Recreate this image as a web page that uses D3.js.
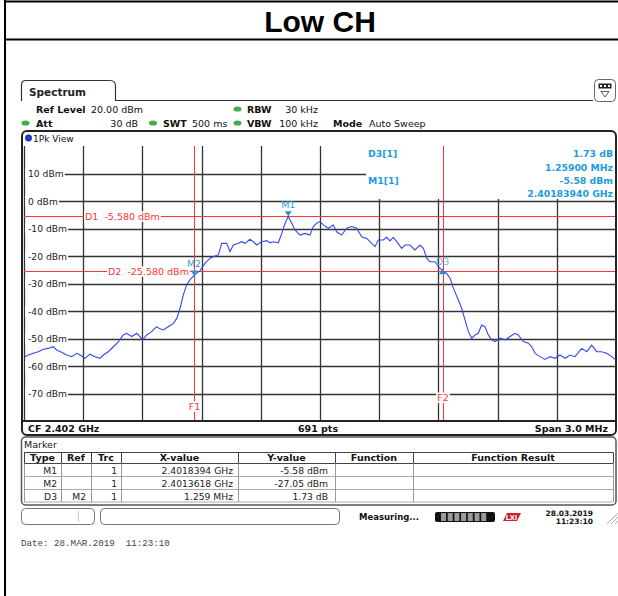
<!DOCTYPE html>
<html>
<head>
<meta charset="utf-8">
<script src="https://cdn.jsdelivr.net/npm/d3@7"></script>
<style>
body { margin: 0; background: #fff; }
svg text { font-family: "DejaVu Sans", Verdana, sans-serif; }
</style>
</head>
<body>
<div id="chart"></div>
<script>

// sweep settings (MHz)
var centerFreq = 2402;
var span = 3;

// trace, frequency offset from CF in MHz / level in dBm
var freqOffset = [
  -1.496,-1.478,-1.453,-1.428,-1.402,-1.377,-1.352,-1.334,-1.309,-1.284,
  -1.258,-1.233,-1.216,-1.191,-1.166,-1.140,-1.115,-1.098,-1.073,-1.047,
  -1.022,-0.997,-0.980,-0.954,-0.929,-0.912,-0.899,-0.878,-0.853,-0.828,
  -0.811,-0.794,-0.769,-0.743,-0.726,-0.709,-0.693,-0.676,-0.659,
  -0.638,-0.608,-0.583,-0.557,-0.532,-0.515,-0.498,-0.473,-0.456,-0.439,
  -0.414,-0.397,-0.380,-0.355,-0.338,-0.321,-0.295,-0.270,-0.253,-0.237,
  -0.211,-0.194,-0.177,-0.161,
  -0.143,-0.127,-0.101,-0.076,-0.051,-0.034,-0.017,0.000,0.017,0.042,
  0.067,0.085,0.110,0.135,0.161,0.186,0.211,0.237,0.262,0.279,
  0.295,0.321,0.338,0.355,0.371,0.389,0.414,0.431,0.456,0.481,
  0.507,0.524,0.541,0.557,0.583,0.600,0.621,
  0.642,0.659,0.676,0.701,0.718,0.735,0.752,0.769,0.786,0.802,
  0.819,0.836,0.853,0.870,0.887,0.912,0.938,0.963,0.988,1.005,
  1.030,1.056,1.073,1.090,1.115,1.140,1.166,1.191,1.216,1.242,
  1.267,1.292,1.326,1.352,1.377,1.402,1.428,1.453,1.478,1.500
];
var levelDbm = [
  -56.6,-56.0,-55.4,-54.8,-53.9,-53.6,-53.0,-54.2,-55.0,-56.0,
  -56.6,-55.4,-56.0,-57.2,-55.7,-56.6,-57.2,-56.0,-54.8,-53.0,
  -51.2,-48.7,-48.1,-49.3,-48.1,-49.3,-50.5,-48.7,-47.5,-45.7,
  -46.5,-46.9,-45.7,-44.5,-42.7,-39.0,-34.2,-30.5,-28.7,
  -27.05,-25.3,-22.7,-20.8,-20.0,-19.6,-15.4,-15.4,-18.4,-16.0,
  -15.4,-14.8,-15.4,-13.9,-14.8,-16.0,-14.8,-14.4,-15.2,-14.8,
  -15.2,-11.8,-8.1,-5.58,
  -8.1,-10.5,-12.4,-11.8,-12.4,-9.3,-8.1,-7.5,-8.7,-9.9,
  -8.7,-11.2,-12.4,-9.9,-9.3,-9.9,-13.0,-13.6,-15.4,-16.6,
  -14.2,-14.2,-13.2,-14.5,-13.2,-14.8,-17.2,-16.0,-16.0,-17.8,
  -16.0,-17.2,-20.8,-22.1,-22.1,-23.9,-25.32,
  -26.3,-28.1,-31.7,-36.0,-39.0,-43.3,-47.5,-49.9,-48.7,-48.1,
  -45.1,-45.7,-48.7,-50.5,-51.1,-49.9,-50.5,-49.3,-48.1,-48.7,
  -51.1,-51.7,-53.0,-55.4,-56.6,-57.6,-56.6,-57.2,-56.0,-57.2,
  -56.0,-56.6,-53.6,-54.8,-52.4,-54.8,-54.8,-55.4,-56.6,-57.8
];

var refLevel = 20;
var yTicks = [10, 0, -10, -20, -30, -40, -50, -60, -70];

// markers
var markerNames = ["M1", "M2", "D3"];
var markerFreq = [-0.1606, -0.6382, 0.6208];
var markerLevel = [-5.58, -27.05, -25.32];

// display / frequency lines
var dLineLevels = [-5.58, -25.58];
var dLineLabels = ["D1  -5.580 dBm", "D2  -25.580 dBm"];
var fLineFreqs = [-0.6382, 0.6208];
var fLineLabels = ["F1", "F2"];

// marker readout (top right)
var infoLeft = ["D3[1]", "", "M1[1]", ""];
var infoRight = ["1.73 dB", "1.25900 MHz", "-5.58 dBm", "2.40183940 GHz"];

// marker table
var tableHeaders = ["Type", "Ref", "Trc", "X-value", "Y-value", "Function", "Function Result"];
var rowType = ["M1", "M2", "D3"];
var rowRef = ["", "", "M2"];
var rowTrc = ["1", "1", "1"];
var rowX = ["2.4018394 GHz", "2.4013618 GHz", "1.259 MHz"];
var rowY = ["-5.58 dBm", "-27.05 dBm", "1.73 dB"];

var W = 618, H = 596;
var svg = d3.select("#chart").append("svg").attr("width", W).attr("height", H);

function c(v) { return Math.round(v) + 0.5; }

function txt(g, x, y, s, size, opt) {
  opt = opt || {};
  var t = g.append("text").attr("x", x).attr("y", y).text(s)
    .style("font-size", size + "px")
    .attr("fill", opt.fill || "#111")
    .attr("text-anchor", opt.anchor || "start");
  if (opt.bold) t.style("font-weight", "bold");
  if (opt.family) t.style("font-family", opt.family);
  if (opt.pre) t.style("white-space", "pre");
  return t;
}

// ---- page frame + title
svg.append("line").attr("x1", 5).attr("x2", 5).attr("y1", 0).attr("y2", H)
  .attr("stroke", "#000").attr("stroke-width", 2);
svg.append("line").attr("x1", 4).attr("x2", W).attr("y1", 1.5).attr("y2", 1.5)
  .attr("stroke", "#000").attr("stroke-width", 2);
svg.append("line").attr("x1", 4).attr("x2", W).attr("y1", 39.5).attr("y2", 39.5)
  .attr("stroke", "#000").attr("stroke-width", 2);
txt(svg, 320, 32, "Low CH", 30, {bold: true, anchor: "middle", family: "'Liberation Sans', Arial, sans-serif", fill: "#000"});

// ---- analyzer screenshot
var scr = svg.append("g");

// tab
scr.append("path")
  .attr("d", "M21.5,101 L21.5,85 Q21.5,80.5 26,80.5 L110,80.5 Q115.5,80.5 115.5,86 L115.5,100.5 L593,100.5")
  .attr("fill", "none").attr("stroke", "#333").attr("stroke-width", 1.2);
txt(scr, 29, 96, "Spectrum", 10.5, {bold: true, fill: "#222"});

// little toolbar button
scr.append("rect").attr("x", 594.5).attr("y", 79.5).attr("width", 21).attr("height", 22).attr("rx", 4)
  .attr("fill", "#fff").attr("stroke", "#666");
scr.append("rect").attr("x", 598.5).attr("y", 83.5).attr("width", 13).attr("height", 5).attr("fill", "#222");
[600, 604, 608].forEach(function(px) {
  scr.append("rect").attr("x", px).attr("y", 85).attr("width", 2).attr("height", 2).attr("fill", "#fff");
});
scr.append("path").attr("d", "M601,91.5 L609,91.5 L605,97 Z").attr("fill", "none").attr("stroke", "#333").attr("stroke-width", 0.8);

// settings rows
function dot(x, y) {
  scr.append("ellipse").attr("cx", x).attr("cy", y).attr("rx", 4).attr("ry", 2.6).attr("fill", "#3fae49");
}
txt(scr, 36, 112.5, "Ref Level", 9.5, {bold: true});
txt(scr, 91, 112.5, "20.00 dBm", 9.5);
dot(237.5, 109);
txt(scr, 247, 112.5, "RBW", 9.5, {bold: true});
txt(scr, 318, 112.5, "30 kHz", 9.5, {anchor: "end"});

dot(25.5, 123);
txt(scr, 36, 126.5, "Att", 9.5, {bold: true});
txt(scr, 138, 126.5, "30 dB", 9.5, {anchor: "end"});
dot(153, 123);
txt(scr, 163, 126.5, "SWT", 9.5, {bold: true});
txt(scr, 192, 126.5, "500 ms", 9.5);
dot(237.5, 123);
txt(scr, 247, 126.5, "VBW", 9.5, {bold: true});
txt(scr, 318, 126.5, "100 kHz", 9.5, {anchor: "end"});
txt(scr, 333, 126.5, "Mode", 9.5, {bold: true});
txt(scr, 369, 126.5, "Auto Sweep", 9.5);

// diagram window frame
scr.append("rect").attr("x", 22).attr("y", 131).attr("width", 594).attr("height", 304).attr("rx", 5)
  .attr("fill", "#fff").attr("stroke", "#222").attr("stroke-width", 2);
scr.append("circle").attr("cx", 28.5).attr("cy", 138).attr("r", 3.2).attr("fill", "#1c38d6").attr("stroke", "#0a1a80").attr("stroke-width", 0.6);
txt(scr, 33, 141.5, "1Pk View", 9);

// scales
var x = d3.scaleLinear().domain([-span / 2, span / 2]).range([24, 616]);
var y = d3.scaleLinear().domain([refLevel - 100, refLevel]).range([421, 146]);

var plot = scr.append("g");

// grid
var xGrid = d3.range(11).map(function(i) { return -span / 2 + i * span / 10; });
plot.selectAll(".vgrid").data(xGrid.slice(0, 10)).enter().append("line")
  .attr("x1", function(d) { return c(x(d)); }).attr("x2", function(d) { return c(x(d)); })
  .attr("y1", 146).attr("y2", 421)
  .attr("stroke", "#333").attr("stroke-width", 1.3);
plot.selectAll(".hgrid").data(yTicks).enter().append("line")
  .attr("x1", 24).attr("x2", 616)
  .attr("y1", function(d) { return c(y(d)); }).attr("y2", function(d) { return c(y(d)); })
  .attr("stroke", "#333").attr("stroke-width", 1.3);

// readout box covers the grid top right
plot.append("rect").attr("x", 366).attr("y", 146).attr("width", 249).attr("height", 53).attr("fill", "#fff");

// bottom line of diagram + footer
scr.append("line").attr("x1", 22).attr("x2", 616).attr("y1", 421).attr("y2", 421)
  .attr("stroke", "#222").attr("stroke-width", 2);
txt(scr, 28, 431.5, "CF 2.402 GHz", 9.5, {bold: true});
txt(scr, 318, 431.5, "691 pts", 9.5, {bold: true, anchor: "middle"});
txt(scr, 608, 431.5, "Span 3.0 MHz", 9.5, {bold: true, anchor: "end"});

// red display lines
var red = "#ff3434";
dLineLevels.forEach(function(lv) {
  plot.append("line").attr("x1", 24).attr("x2", 615)
    .attr("y1", c(y(lv))).attr("y2", c(y(lv)))
    .attr("stroke", red).attr("stroke-width", 1);
});
fLineFreqs.forEach(function(f) {
  plot.append("line").attr("x1", c(x(f))).attr("x2", c(x(f)))
    .attr("y1", 146).attr("y2", 421)
    .attr("stroke", red).attr("stroke-width", 1);
});

// labels with white background
function bgLabel(x0, yBase, s, size, col, anchor, pad) {
  var t = txt(plot, x0, yBase, s, size, {fill: col, anchor: anchor, pre: true});
  var b = t.node().getBBox();
  plot.insert("rect", function() { return t.node(); })
    .attr("x", b.x - pad).attr("y", yBase - size + 1).attr("width", b.width + 2 * pad).attr("height", size + 1)
    .attr("fill", "#fff");
  return t;
}
var dLabelX = [85, 108];
dLineLabels.forEach(function(s, i) {
  bgLabel(dLabelX[i], y(dLineLevels[i]) + 3.5, s, 9.5, red, "start", 1);
});
var fLabelY = [410, 401];
fLineLabels.forEach(function(s, i) {
  bgLabel(x(fLineFreqs[i]) + 0.5, fLabelY[i], s, 9.5, red, "middle", 1);
});

// y tick labels
yTicks.forEach(function(v) {
  var t = txt(plot, 28, y(v) + 3.5, v + " dBm", 9.2, {fill: "#222"});
  var b = t.node().getBBox();
  plot.insert("rect", function() { return t.node(); })
    .attr("x", 25).attr("y", y(v) - 5).attr("width", b.x + b.width - 25 + 1).attr("height", 10)
    .attr("fill", "#fff");
});

// trace
var trace = freqOffset.map(function(f, i) { return [f, levelDbm[i]]; });
var line = d3.line().x(function(d) { return x(d[0]); }).y(function(d) { return y(d[1]); });
plot.append("path").datum(trace).attr("d", line)
  .attr("fill", "none").attr("stroke", "#3548f5").attr("stroke-width", 1.1);

// markers
var mBlue = "#1f93d9";
markerNames.forEach(function(n, i) {
  var mx = x(markerFreq[i]), my = y(markerLevel[i]);
  var up = n.charAt(0) === "D";
  if (up) {
    plot.append("path").attr("d", "M" + (mx - 3.5) + "," + (my + 3.5) + " L" + (mx + 3.5) + "," + (my + 3.5) + " L" + mx + "," + (my - 2.5) + " Z")
      .attr("fill", mBlue);
    txt(plot, mx, my - 6, n, 9.5, {fill: "#6bbde8", anchor: "middle"});
  } else {
    plot.append("path").attr("d", "M" + (mx - 3.5) + "," + (my - 5) + " L" + (mx + 3.5) + "," + (my - 5) + " L" + mx + "," + my + " Z")
      .attr("fill", mBlue);
    txt(plot, mx, my - 8, n, 9.5, {fill: "#2b9fe0", anchor: "middle"});
  }
});

// marker readout text
var infoBase = [157, 170.5, 184, 197];
infoLeft.forEach(function(s, i) {
  if (s) txt(plot, 368, infoBase[i], s, 9.3, {fill: "#1d9ae0", bold: true});
});
infoRight.forEach(function(s, i) {
  txt(plot, 613, infoBase[i], s, 9.3, {fill: "#1d9ae0", bold: true, anchor: "end"});
});

// ---- marker table panel
scr.append("rect").attr("x", 21.5).attr("y", 437).attr("width", 594.5).attr("height", 68).attr("rx", 4)
  .attr("fill", "#fff").attr("stroke", "#555").attr("stroke-width", 1.5);
txt(scr, 24, 448, "Marker", 9.5, {fill: "#111"});

var colEdges = [24, 61, 91, 121, 238, 335, 413, 613];
var rowEdges = [452.5, 463.5, 476.5, 489.5, 502];
var tbl = scr.append("g");
rowEdges.slice(1).forEach(function(ry, i) {
  tbl.append("line").attr("x1", colEdges[0]).attr("x2", colEdges[colEdges.length - 1])
    .attr("y1", ry).attr("y2", ry).attr("stroke", i === 0 ? "#444" : "#aaa");
});
tbl.append("line").attr("x1", colEdges[0]).attr("x2", colEdges[colEdges.length - 1])
  .attr("y1", rowEdges[0]).attr("y2", rowEdges[0]).attr("stroke", "#444");
colEdges.forEach(function(cx) {
  tbl.append("line").attr("x1", c(cx)).attr("x2", c(cx))
    .attr("y1", rowEdges[0]).attr("y2", rowEdges[1]).attr("stroke", "#444");
  tbl.append("line").attr("x1", c(cx)).attr("x2", c(cx))
    .attr("y1", rowEdges[1]).attr("y2", rowEdges[4]).attr("stroke", "#999");
});
tableHeaders.forEach(function(h, i) {
  txt(tbl, (colEdges[i] + colEdges[i + 1]) / 2, 461, h, 9.5, {bold: true, anchor: "middle"});
});
var rightPad = [4, 5, 4, 5, 7];
var cols = [rowType, rowRef, rowTrc, rowX, rowY];
rowType.forEach(function(r, ri) {
  var base = rowEdges[ri + 1] + 10.5;
  cols.forEach(function(col, ci) {
    if (col[ri]) txt(tbl, colEdges[ci + 1] - rightPad[ci], base, col[ri], 9.2, {anchor: "end", fill: "#222"});
  });
});

// ---- status bar
scr.append("rect").attr("x", 21.5).attr("y", 508.5).attr("width", 73).attr("height", 16).attr("rx", 4)
  .attr("fill", "#fff").attr("stroke", "#777");
scr.append("line").attr("x1", 78.5).attr("x2", 78.5).attr("y1", 511).attr("y2", 522).attr("stroke", "#ccc");
scr.append("rect").attr("x", 100.5).attr("y", 508.5).attr("width", 239).attr("height", 16).attr("rx", 4)
  .attr("fill", "#fff").attr("stroke", "#777");
txt(scr, 359, 520, "Measuring...", 8.5, {bold: true});
scr.append("rect").attr("x", 435).attr("y", 512).attr("width", 60).attr("height", 10).attr("rx", 2).attr("fill", "#111");
d3.range(7).forEach(function(i) {
  scr.append("rect").attr("x", 441 + i * 6.7).attr("y", 513).attr("width", 5).attr("height", 8).attr("fill", "#9a9a9a");
});
scr.append("path").attr("d", "M503,521 L507,513 L521,513 L517,521 Z").attr("fill", "#d0202a");
txt(scr, 511.5, 520, "LXI", 6.5, {bold: true, fill: "#fff", anchor: "middle"});
txt(scr, 593, 516, "28.03.2019", 7.5, {bold: true, anchor: "end"});
txt(scr, 593, 524, "11:23:10", 7.5, {bold: true, anchor: "end"});
// resize grip
[0, 4, 8].forEach(function(o) {
  scr.append("line").attr("x1", 618).attr("y1", 513 + o).attr("x2", 607 + o).attr("y2", 524)
    .attr("stroke", "#999").attr("stroke-width", 0.8);
});

// capture timestamp
txt(svg, 21, 546, "Date: 28.MAR.2019  11:23:10", 9.2, {family: "'Liberation Mono', 'Courier New', monospace", fill: "#444", pre: true});

</script>
</body>
</html>
